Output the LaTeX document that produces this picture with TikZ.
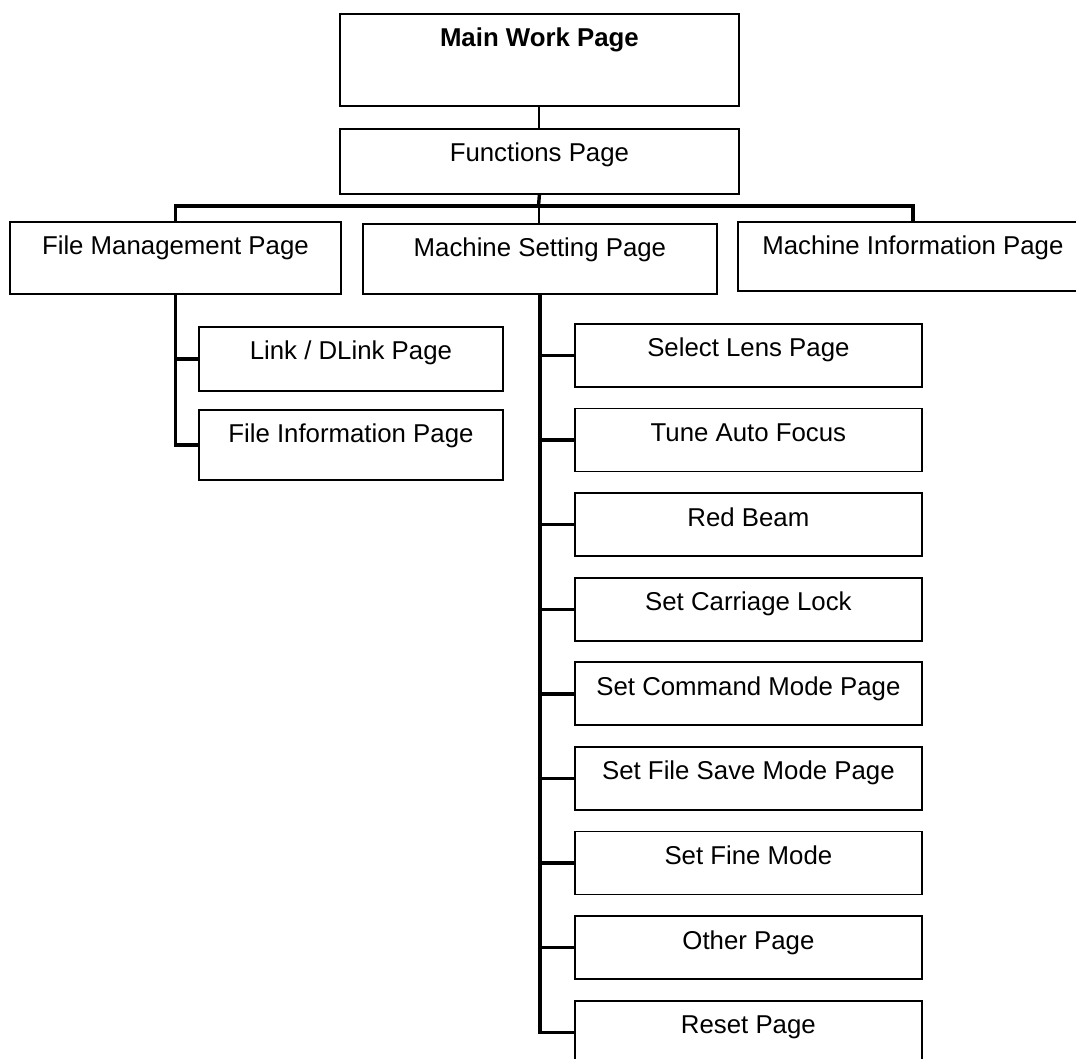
\documentclass[tikz,border=0pt]{standalone}
\usepackage{fontspec}
\setmainfont{Liberation Sans}
\begin{document}
\begin{tikzpicture}[x=1pt,y=-1pt,
  box/.style={draw=black, line width=1.8pt, fill=white, inner sep=0pt, anchor=north west,
    text height=33pt, font=\fontsize{25.8}{30}\selectfont, align=center},
  conn/.style={line width=3.4pt, draw=black},
  thinconn/.style={line width=2pt, draw=black}]
\useasboundingbox (0,0) rectangle (1076,1059);
\fill[white] (0,0) rectangle (1076,1059);
% top boxes
\node[box, minimum width=399pt, text depth=59pt] (main) at (339,13) {\textbf{Main Work Page}};
\node[box, minimum width=399pt, text depth=32pt] (func) at (339,128) {Functions Page};
% level 2
\node[box, minimum width=331pt, text depth=39pt] (fm) at (9,221) {File Management Page};
\node[box, minimum width=354pt, text depth=37pt] (ms) at (362,223) {Machine Setting Page};
\node[box, minimum width=350pt, text depth=36pt] (mi) at (737,221) {Machine Information Page};
% file management children
\node[box, minimum width=304pt, text depth=31pt] (link) at (198,326) {Link / DLink Page};
\node[box, minimum width=304pt, text depth=37pt] (finfo) at (198,409) {File Information Page};
% machine setting children
\foreach \i/\nm/\t in {0/b0/Select Lens Page, 1/b1/Tune Auto Focus, 2/b2/Red Beam,
  3/b3/Set Carriage Lock, 4/b4/Set Command Mode Page, 5/b5/Set File Save Mode Page,
  6/b6/Set Fine Mode, 7/b7/Other Page, 8/b8/Reset Page}{
  \node[box, minimum width=347pt, text depth=30pt] (\nm) at (574,{323+84.6*\i}) {\t};
}
% connectors
\coordinate (bus) at (538.5,206);
\draw[thinconn] (main.south) -- (func.north);
\draw[conn] (func.south) -- (bus);
\draw[conn] (fm.north) |- (bus) -| (mi.north);
\draw[thinconn] (bus) -- (bus |- ms.north);
\draw[conn] (fm.south) |- (link.west);
\draw[conn] (fm.south) |- (finfo.west);
\foreach \nm in {b0,b1,b2,b3,b4,b5,b6,b7,b8}{
  \draw[conn] (ms.south) |- (\nm.west);
}
\end{tikzpicture}
\end{document}
